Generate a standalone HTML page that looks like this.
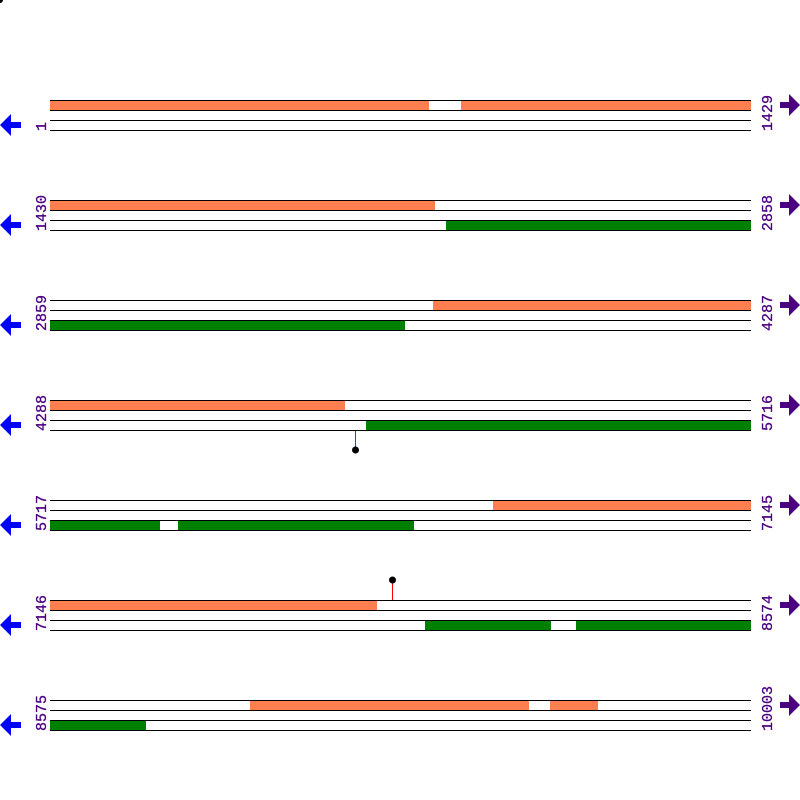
<!DOCTYPE html>
<html><head><meta charset="utf-8"><style>body{margin:0;background:#fff}svg{display:block}text{font-family:"Liberation Mono","DejaVu Sans Mono",monospace;font-size:15px;fill:#4b0082;stroke:#4b0082;stroke-width:0.3}</style></head><body>
<svg width="800" height="800" xmlns="http://www.w3.org/2000/svg">
<defs>
<g id="lines" stroke="#000" stroke-width="1">
<line x1="50" x2="751" y1="0.5" y2="0.5"/><line x1="50" x2="751" y1="10.5" y2="10.5"/>
<line x1="50" x2="751" y1="20.5" y2="20.5"/><line x1="50" x2="751" y1="30.5" y2="30.5"/>
</g>
<g id="arrows">
<polygon points="0,25 11,14 11,22 21,22 21,28 11,28 11,36" fill="#0000ff"/>
<polygon points="800,5 789,-6 789,2 780,2 780,8 789,8 789,16" fill="#4b0082"/>
</g>
</defs>
<circle cx="0" cy="0" r="3" fill="#000"/>

<g transform="translate(0,100)">
<rect x="50" y="0" width="379" height="11" fill="#ff7f50"/><rect x="461" y="0" width="290" height="11" fill="#ff7f50"/>
<use href="#lines"/><use href="#arrows"/>
<text transform="translate(46,31) rotate(-90)">1</text><text transform="translate(772,31) rotate(-90)">1429</text>
</g>

<g transform="translate(0,200)">
<rect x="50" y="0" width="385" height="11" fill="#ff7f50"/><rect x="446" y="20" width="305" height="11" fill="#008000"/>
<use href="#lines"/><use href="#arrows"/>
<text transform="translate(46,31) rotate(-90)">1430</text><text transform="translate(772,31) rotate(-90)">2858</text>
</g>

<g transform="translate(0,300)">
<rect x="433" y="0" width="318" height="11" fill="#ff7f50"/><rect x="50" y="20" width="355" height="11" fill="#008000"/>
<use href="#lines"/><use href="#arrows"/>
<text transform="translate(46,31) rotate(-90)">2859</text><text transform="translate(772,31) rotate(-90)">4287</text>
</g>

<g transform="translate(0,400)">
<rect x="50" y="0" width="295" height="11" fill="#ff7f50"/><rect x="366" y="20" width="385" height="11" fill="#008000"/>
<use href="#lines"/><use href="#arrows"/>
<text transform="translate(46,31) rotate(-90)">4288</text><text transform="translate(772,31) rotate(-90)">5716</text>
</g>

<g transform="translate(0,500)">
<rect x="493" y="0" width="258" height="11" fill="#ff7f50"/><rect x="50" y="20" width="110" height="11" fill="#008000"/><rect x="178" y="20" width="236" height="11" fill="#008000"/>
<use href="#lines"/><use href="#arrows"/>
<text transform="translate(46,31) rotate(-90)">5717</text><text transform="translate(772,31) rotate(-90)">7145</text>
</g>

<g transform="translate(0,600)">
<rect x="50" y="0" width="327" height="11" fill="#ff7f50"/><rect x="425" y="20" width="126" height="11" fill="#008000"/><rect x="576" y="20" width="175" height="11" fill="#008000"/>
<use href="#lines"/><use href="#arrows"/>
<text transform="translate(46,31) rotate(-90)">7146</text><text transform="translate(772,31) rotate(-90)">8574</text>
</g>

<g transform="translate(0,700)">
<rect x="250" y="0" width="279" height="11" fill="#ff7f50"/><rect x="550" y="0" width="48" height="11" fill="#ff7f50"/><rect x="50" y="20" width="96" height="11" fill="#008000"/>
<use href="#lines"/><use href="#arrows"/>
<text transform="translate(46,31) rotate(-90)">8575</text><text transform="translate(772,31) rotate(-90)">10003</text>
</g>

<line x1="355.5" x2="355.5" y1="431" y2="450" stroke="#f00"/><circle cx="355.5" cy="450" r="3.5" fill="#000"/>
<line x1="392.5" x2="392.5" y1="580" y2="600" stroke="#f00"/><circle cx="392.5" cy="580" r="3.5" fill="#000"/>
</svg>
</body></html>
